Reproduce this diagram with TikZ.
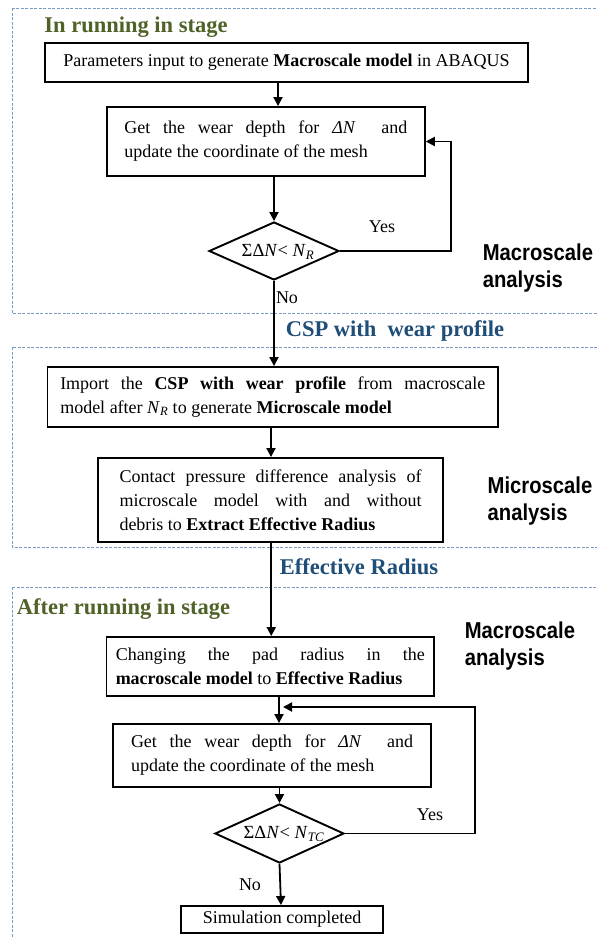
\documentclass[tikz,border=0pt]{standalone}
\usepackage{fontspec}
\setmainfont{Liberation Serif}
\newfontfamily\sidefont[FakeStretch=0.88]{Liberation Sans}
\usetikzlibrary{shapes.geometric,arrows.meta}
\definecolor{stagegreen}{HTML}{4F6228}
\definecolor{flowblue}{HTML}{1F4E79}
\definecolor{dashblue}{RGB}{120,155,195}
\tikzset{
  stagebox/.style={draw=dashblue,line width=0.9pt,dash pattern=on 3pt off 1.5pt},
  procbox/.style={draw,line width=1.9pt,rectangle,inner ysep=0pt,
    font=\fontsize{18}{24}\selectfont,align=justify},
  decbox/.style={draw,line width=1.9pt,diamond,inner sep=0pt},
  dectext/.style={font=\fontsize{18.5}{22}\selectfont,inner sep=0pt},
  arr/.style={line width=1.8pt,-{Triangle[length=9pt,width=9pt]}},
  steptitle/.style={font=\fontsize{22.5}{27}\selectfont\bfseries,text=stagegreen,inner sep=0pt},
  flowtitle/.style={font=\fontsize{22.5}{27}\selectfont\bfseries,text=flowblue,inner sep=0pt},
  sidelabel/.style={font=\fontsize{23}{27}\selectfont\sidefont\bfseries,align=left,inner sep=0pt},
  yesno/.style={font=\fontsize{18}{22}\selectfont,inner sep=0pt}
}
\begin{document}
\begin{tikzpicture}[x=1pt,y=-1pt]
\useasboundingbox (0,0) rectangle (597,938);
\clip (0,0) rectangle (597,938);
% stage frames
\draw[stagebox] (12,8) rectangle (640,313);
\draw[stagebox] (12,347) rectangle (640,547);
\draw[stagebox] (12,587) rectangle (640,980);

% titles
\node[steptitle] (t1) at (136,27) {In running in stage};
\node[flowtitle] (t2) at (395,331) {CSP with\ \ wear profile};
\node[flowtitle] (t3) at (359,567) {Effective Radius};
\node[steptitle] (t4) at (123.5,609) {After running in stage};

% side labels
\node[sidelabel] (s1) at (538,268) {Macroscale\\analysis};
\node[sidelabel] (s2) at (540,501) {Microscale\\analysis};
\node[sidelabel] (s3) at (520,646) {Macroscale\\analysis};

% boxes
\node[procbox,minimum width=483pt,minimum height=39pt,align=center] (b1) at (286.5,62.5)
  {Parameters input to generate \textbf{Macroscale model} in ABAQUS};
\node[procbox,text width=283pt,inner xsep=17.5pt,minimum height=69pt] (b2) at (265.8,141.5)
  {Get the wear depth for \textit{ΔN}\ \ and\linebreak update the coordinate of the mesh};
\node[decbox,minimum width=130pt,minimum height=58pt] (d1) at (274,251) {};
\node[dectext] (d1t) at (278,252) {ΣΔ\textit{N}< \textit{N}\textsubscript{\textit{R}}};

\node[procbox,text width=425pt,inner xsep=12.75pt,minimum height=60pt] (b3) at (272.75,397)
  {Import the \textbf{CSP with wear profile} from macroscale\linebreak model after \textit{N}\textsubscript{\textit{R}} to generate \textbf{Microscale model}};
\node[procbox,text width=302pt,inner xsep=21.5pt,minimum height=84pt] (b4) at (270.5,500)
  {Contact pressure difference analysis of\linebreak microscale model with and without\linebreak debris to \textbf{Extract Effective Radius}};

\node[procbox,text width=309pt,inner xsep=9.25pt,minimum height=59pt] (b5) at (270.25,666.5)
  {Changing the pad radius in the\linebreak \textbf{macroscale model} to \textbf{Effective Radius}};
\node[procbox,text width=282pt,inner xsep=18pt,minimum height=63pt] (b6) at (272,755.5)
  {Get the wear depth for \textit{ΔN}\ \ and\linebreak update the coordinate of the mesh};
\node[decbox,minimum width=129pt,minimum height=59pt] (d2) at (279.5,833.5) {};
\node[dectext] (d2t) at (284,834) {ΣΔ\textit{N}< \textit{N}\textsubscript{\textit{TC}}};
\node[procbox,minimum width=202pt,minimum height=27pt,align=center] (b7) at (282,919.5)
  {Simulation completed};

% loop corner coordinates
\coordinate (l1) at (451,141.5);
\coordinate (l2) at (475,707);
\coordinate (l2e) at (283,707);

% connectors
\draw[arr] ([xshift=-8.5pt]b1.south) -- ([xshift=-8.5pt]b1.south |- b2.north);
\draw[arr] (d1.north |- b2.south) -- (d1.north);
\draw[arr] (d1.south) -- (d1.south |- b3.north);
\draw[arr] (d1.east) -| (l1) -- (b2.east);
\draw[arr] ([xshift=0.5pt]b4.north |- b3.south) -- ([xshift=0.5pt]b4.north);
\draw[arr] ([xshift=1pt]b5.north |- b4.south) -- ([xshift=1pt]b5.north);
\draw[arr] ([xshift=7pt]b6.north |- b5.south) -- ([xshift=7pt]b6.north);
\draw[arr] (d2.north |- b6.south) -- (d2.north);
\draw[arr] (d2.south) -- ([xshift=-1pt]b7.north);
\draw[arr] (d2.east) -| (l2) -- (l2e);

% yes / no labels
\node[yesno] (y1) at (382,227) {Yes};
\node[yesno] (n1) at (287,298) {No};
\node[yesno] (y2) at (430,815) {Yes};
\node[yesno] (n2) at (250,885) {No};
\end{tikzpicture}
\end{document}
